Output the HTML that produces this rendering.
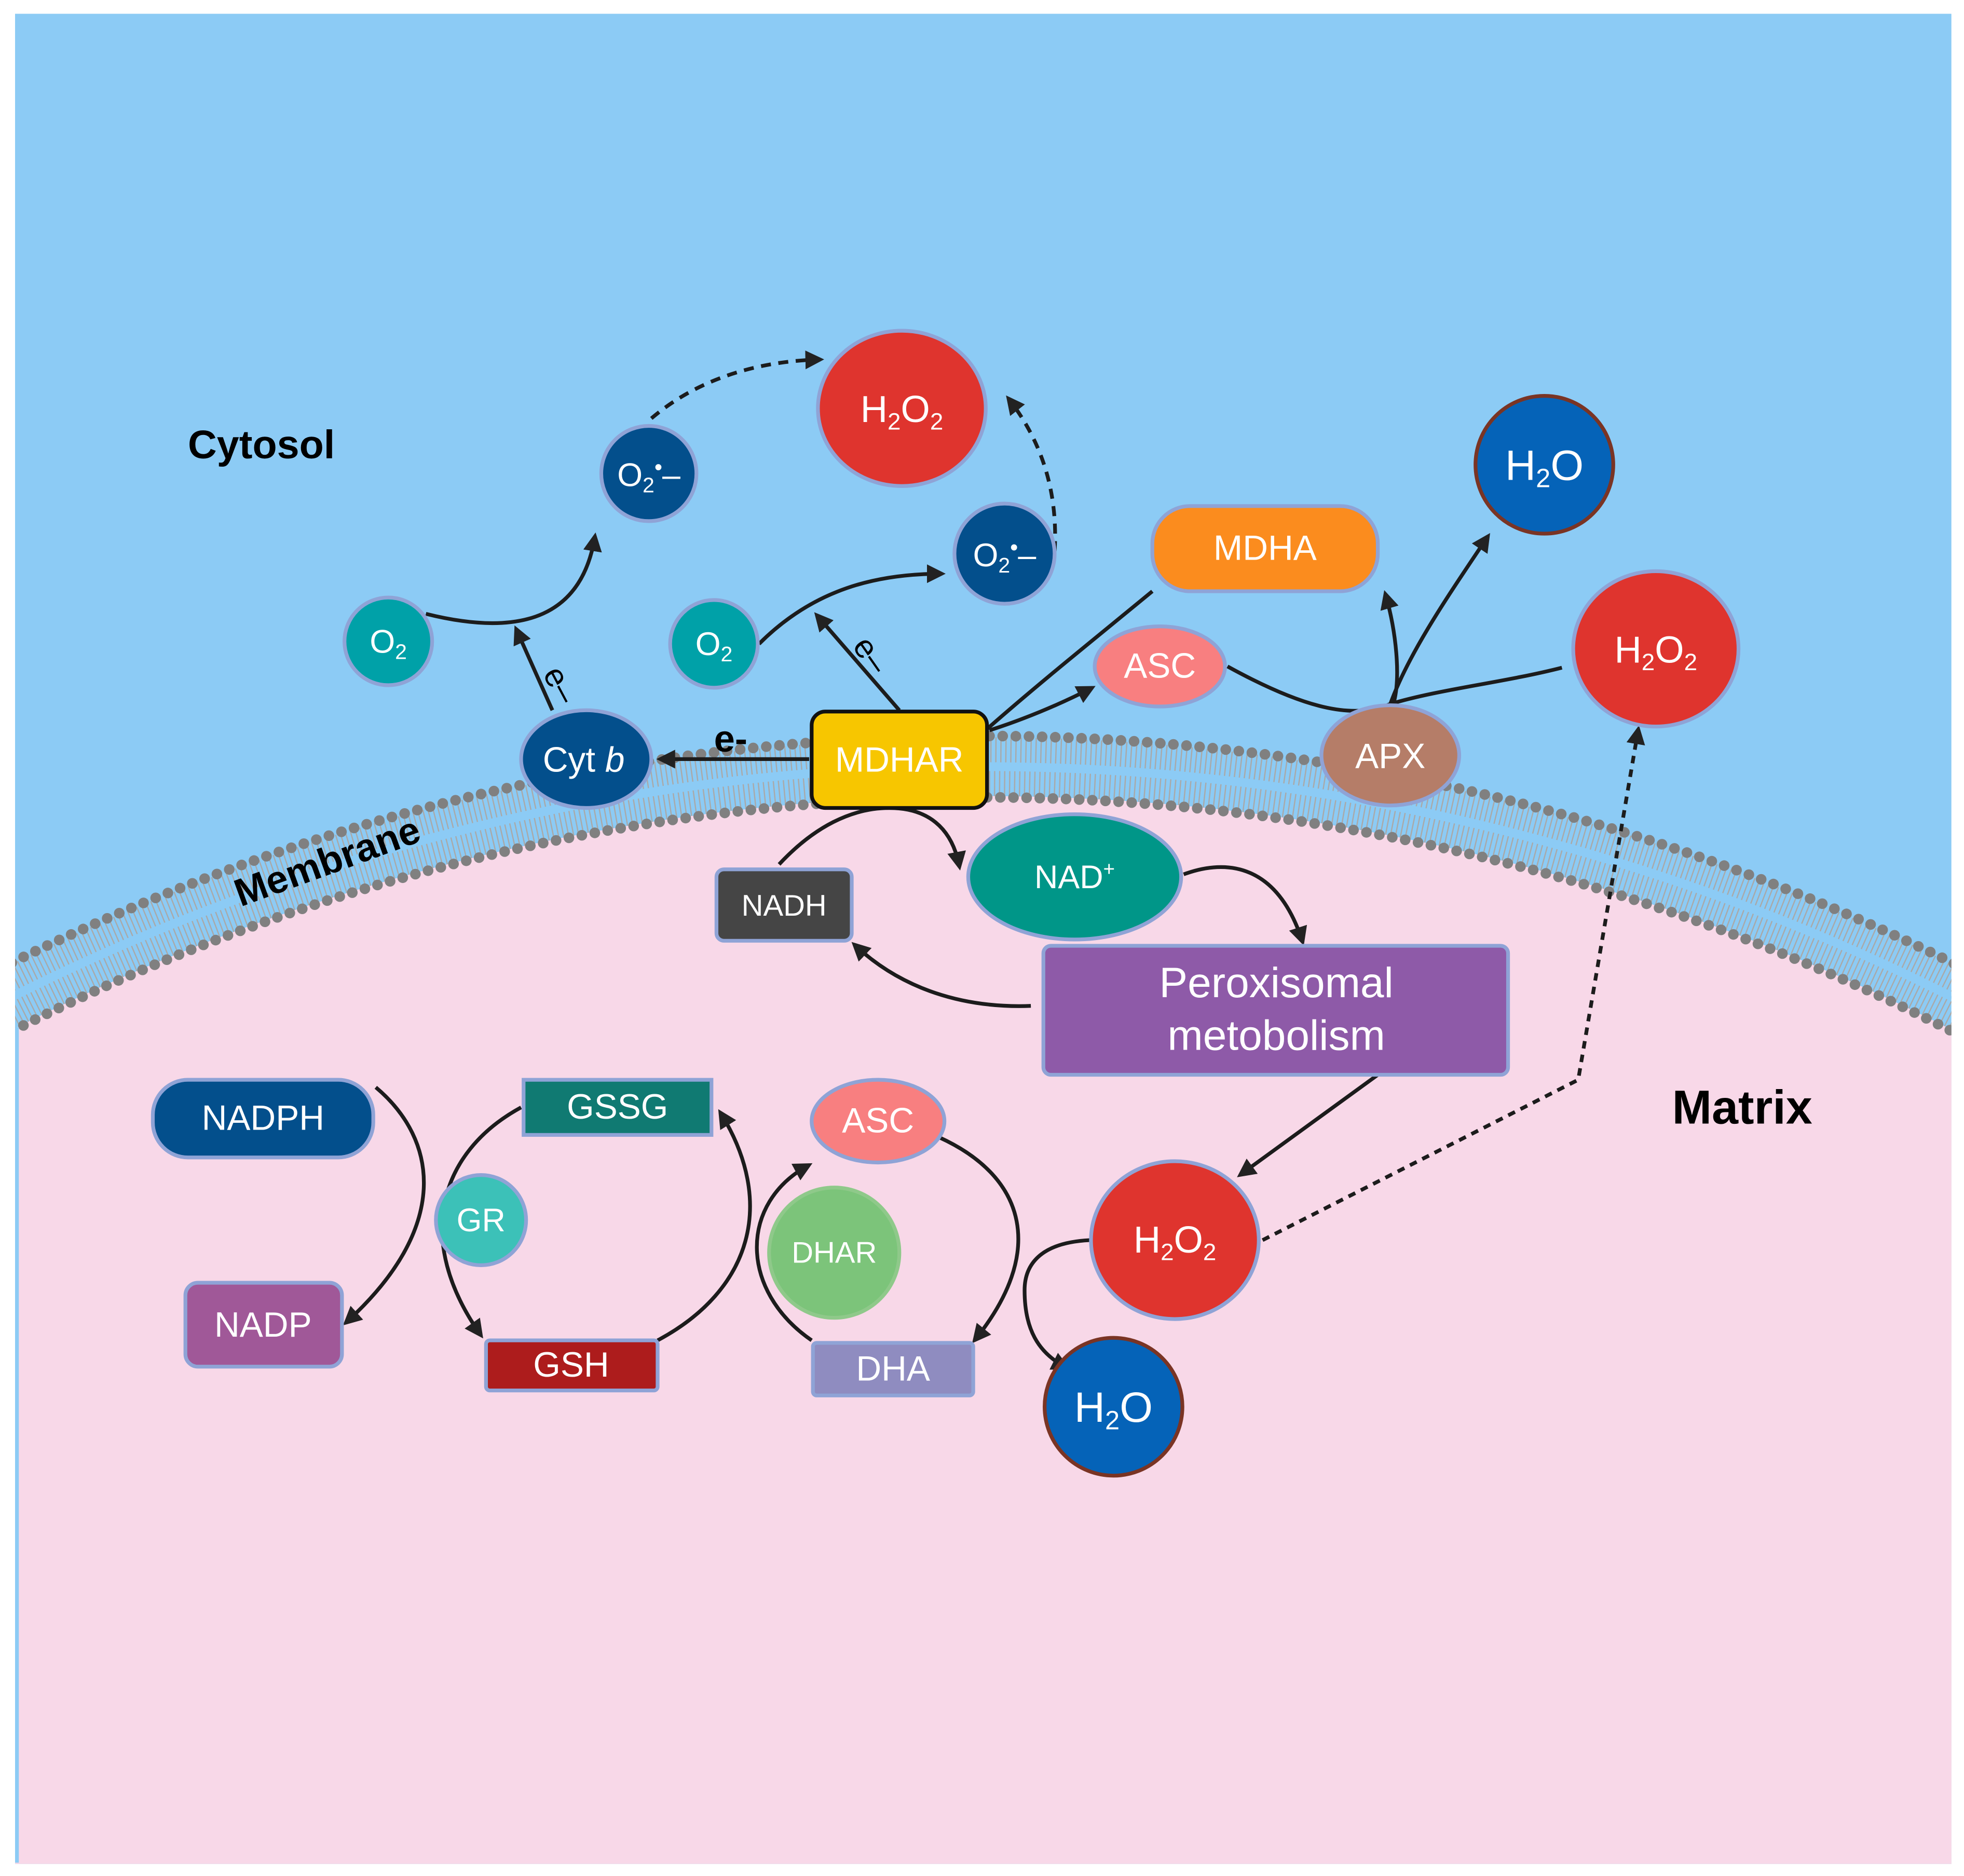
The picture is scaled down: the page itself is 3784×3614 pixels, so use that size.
<!DOCTYPE html>
<html><head><style>html,body{margin:0;padding:0;background:#fff;width:3784px;height:3614px;overflow:hidden}svg{display:block}</style></head>
<body>
<svg width="3784" height="3614" viewBox="0 0 1568 1497.6" xmlns="http://www.w3.org/2000/svg" font-family="Liberation Sans, sans-serif">
<defs>
<marker id="a" viewBox="0 0 10 10" refX="8" refY="5" markerWidth="5" markerHeight="5" orient="auto"><path d="M0,0 L10,5 L0,10 z" fill="#222"/></marker>
<clipPath id="cp"><rect x="12" y="11" width="1546" height="1477"/></clipPath>
</defs>
<rect width="1568" height="1497.6" fill="#fff"/>
<g clip-path="url(#cp)">
<rect x="12" y="11" width="1546" height="1477" fill="#8ccbf5"/>
<path d="M0,827.1 A1700,1700 0 0 1 1568,827.1 L1568,1488 L0,1488 Z" fill="#f8d8e8"/>
<path d="M0,785.5 A1737,1737 0 0 1 1568,785.5" fill="none" stroke="#a9a9a9" stroke-width="20" stroke-dasharray="1 3"/>
<path d="M0,815.8 A1710,1710 0 0 1 1568,815.8" fill="none" stroke="#a9a9a9" stroke-width="20" stroke-dasharray="1 3"/>
<path d="M0,801.2 A1723,1723 0 0 1 1568,801.2" fill="none" stroke="#8ccbf5" stroke-width="2"/>
<path d="M0,773.2 A1748,1748 0 0 1 1568,773.2" fill="none" stroke="#808080" stroke-width="8.5" stroke-dasharray="0 10.5" stroke-linecap="round"/>
<path d="M0,828.2 A1699,1699 0 0 1 1568,828.2" fill="none" stroke="#808080" stroke-width="8.5" stroke-dasharray="0 10.5" stroke-linecap="round"/>
</g>
<line x1="13.5" y1="820" x2="13.5" y2="1487" stroke="#8ccbf5" stroke-width="3"/>

<text x="150" y="366" font-size="32" font-weight="bold">Cytosol</text>
<text x="1335" y="897" font-size="38" font-weight="bold">Matrix</text>
<text x="192" y="724" font-size="31" font-weight="bold" transform="rotate(-20 192 724)">Membrane</text>

<g fill="none" stroke="#1c1c1c" stroke-width="3">
<path d="M520,334 C560,300 610,288 655,287" stroke-dasharray="8 6" marker-end="url(#a)"/>
<path d="M842,440 C845,390 830,350 805,318" stroke-dasharray="8 6" marker-end="url(#a)"/>
<path d="M340,490 C420,510 465,490 475,428" marker-end="url(#a)"/>
<path d="M441,567 L412,502" marker-end="url(#a)"/>
<path d="M606,514 C650,470 700,458 752,458" marker-end="url(#a)"/>
<path d="M718,567 L652,491" marker-end="url(#a)"/>
<path d="M646,606 L527,606" marker-end="url(#a)"/>
<path d="M788,582 C830,545 880,505 920,472"/>
<path d="M790,583 C815,575 845,563 872,549" marker-end="url(#a)"/>
<path d="M980,532 C1040,565 1080,575 1110,562 C1150,550 1200,545 1247,533"/>
<path d="M1110,562 C1125,520 1160,470 1188,428" marker-end="url(#a)"/>
<path d="M1113,560 C1118,540 1115,505 1106,474" marker-end="url(#a)"/>
<path d="M1008,990 L1260,862 L1308,582" stroke-dasharray="6 5" marker-end="url(#a)"/>
<path d="M622,690 C650,660 680,645 710,645 C740,645 760,660 766,692" marker-end="url(#a)"/>
<path d="M945,698 C980,685 1020,690 1040,752" marker-end="url(#a)"/>
<path d="M823,803 C770,805 720,790 682,754" marker-end="url(#a)"/>
<path d="M1100,858 L990,938" marker-end="url(#a)"/>
<path d="M300,868 C350,910 360,980 276,1056" marker-end="url(#a)"/>
<path d="M416,884 C350,920 330,990 384,1066" marker-end="url(#a)"/>
<path d="M525,1070 C600,1030 620,960 575,888" marker-end="url(#a)"/>
<path d="M648,1070 C590,1030 590,960 646,930" marker-end="url(#a)"/>
<path d="M750,908 C820,940 835,1000 778,1070" marker-end="url(#a)"/>
<path d="M870,990 C830,992 818,1010 818,1030 C818,1060 828,1080 852,1092" marker-end="url(#a)"/>
</g>
<text x="433" y="538" font-size="26" transform="rotate(62 433 538)">e–</text>
<text x="680" y="516" font-size="26" transform="rotate(55 680 516)">e–</text>
<text x="570" y="600" font-size="30" font-weight="bold">e-</text>

<g stroke="#8fa3d6" stroke-width="3">
<ellipse cx="720" cy="326" rx="67" ry="62" fill="#df342e"/>
<circle cx="518" cy="378" r="38" fill="#034f8c"/>
<circle cx="802" cy="442" r="40" fill="#034f8c"/>
<circle cx="310" cy="512" r="35" fill="#00a1a8"/>
<circle cx="570" cy="514" r="35" fill="#00a1a8"/>
<rect x="920" y="404" width="180" height="68" rx="30" fill="#fb8c1e"/>
<ellipse cx="926" cy="532" rx="52" ry="32" fill="#f87f80"/>
<ellipse cx="1322" cy="518" rx="66" ry="62" fill="#df342e"/>
<ellipse cx="468" cy="606" rx="52" ry="39" fill="#034f8c"/>
<ellipse cx="1110" cy="603" rx="55" ry="40" fill="#b57d68"/>
<rect x="572" y="694" width="108" height="57" rx="6" fill="#454545"/>
<ellipse cx="858" cy="700" rx="85" ry="50" fill="#009688"/>
<rect x="833" y="755" width="371" height="103" rx="6" fill="#8e5aa8"/>
<rect x="122" y="862" width="176" height="62" rx="28" fill="#034f8c"/>
<rect x="418" y="862" width="150" height="44" fill="#107a72"/>
<ellipse cx="701" cy="895" rx="53" ry="33" fill="#f87f80"/>
<circle cx="384" cy="974" r="36" fill="#3cc1b8"/>
<circle cx="666" cy="1000" r="52" fill="#7cc47a" stroke="#8fc98a"/>
<ellipse cx="938" cy="990" rx="67" ry="63" fill="#df342e"/>
<rect x="148" y="1024" width="125" height="67" rx="10" fill="#a05898"/>
<rect x="388" y="1070" width="137" height="40" rx="3" fill="#ad1c1c"/>
<rect x="649" y="1072" width="128" height="42" rx="3" fill="#8f8cc0"/>
</g>
<circle cx="1233" cy="371" r="55" fill="#0563b8" stroke="#7a3424" stroke-width="3"/>
<circle cx="889" cy="1123" r="55" fill="#0563b8" stroke="#7a3424" stroke-width="3"/>
<rect x="648" y="568" width="140" height="77" rx="11" fill="#f7c600" stroke="#111" stroke-width="3"/>

<g fill="#fff" text-anchor="middle" font-size="26">
<text x="720" y="337" font-size="30">H<tspan font-size="19" dy="6">2</tspan><tspan dy="-6">O</tspan><tspan font-size="19" dy="6">2</tspan></text>
<text x="1322" y="529" font-size="30">H<tspan font-size="19" dy="6">2</tspan><tspan dy="-6">O</tspan><tspan font-size="19" dy="6">2</tspan></text>
<text x="938" y="1000" font-size="30">H<tspan font-size="19" dy="6">2</tspan><tspan dy="-6">O</tspan><tspan font-size="19" dy="6">2</tspan></text>
<text x="1233" y="383" font-size="34">H<tspan font-size="21" dy="6">2</tspan><tspan dy="-6">O</tspan></text>
<text x="889" y="1135" font-size="34">H<tspan font-size="21" dy="6">2</tspan><tspan dy="-6">O</tspan></text>
<text x="518" y="388">O<tspan font-size="17" dy="5">2</tspan><tspan dy="-14" font-size="18">•</tspan><tspan dy="9">–</tspan></text>
<text x="802" y="452">O<tspan font-size="17" dy="5">2</tspan><tspan dy="-14" font-size="18">•</tspan><tspan dy="9">–</tspan></text>
<text x="310" y="521">O<tspan font-size="17" dy="5">2</tspan></text>
<text x="570" y="523">O<tspan font-size="17" dy="5">2</tspan></text>
<text x="1010" y="447" font-size="28">MDHA</text>
<text x="926" y="541" font-size="28">ASC</text>
<text x="466" y="616" font-size="28">Cyt <tspan font-style="italic">b</tspan></text>
<text x="718" y="616" font-size="28">MDHAR</text>
<text x="1110" y="613" font-size="28">APX</text>
<text x="626" y="731" font-size="24">NADH</text>
<text x="858" y="709" font-size="26">NAD<tspan font-size="16" dy="-10">+</tspan></text>
<text x="1019" y="796" font-size="34">Peroxisomal</text>
<text x="1019" y="838" font-size="34">metobolism</text>
<text x="210" y="902" font-size="28">NADPH</text>
<text x="493" y="893" font-size="28">GSSG</text>
<text x="701" y="904" font-size="28">ASC</text>
<text x="384" y="983" font-size="26">GR</text>
<text x="666" y="1008" font-size="24">DHAR</text>
<text x="210" y="1067" font-size="28">NADP</text>
<text x="456" y="1099" font-size="28">GSH</text>
<text x="713" y="1102" font-size="28">DHA</text>
</g>
</svg>
</body></html>
